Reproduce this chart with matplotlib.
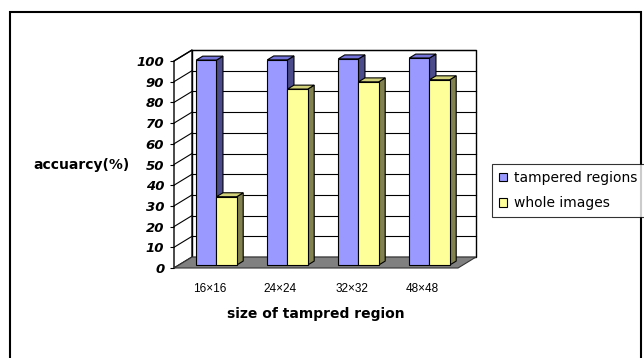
import matplotlib
matplotlib.use("Agg")
import matplotlib.pyplot as plt
from matplotlib.patches import Polygon, Rectangle, Patch

categories = ["16×16", "24×24", "32×32", "48×48"]
tampered_regions = [99.0, 99.1, 99.6, 100.0]
whole_images = [33.0, 85.0, 88.5, 89.5]
series_names = ["tampered regions", "whole images"]
yticks = list(range(0, 101, 10))

# face colours for each series: front, side, top
faces = [("#9999FF", "#4B4B8C", "#7373D9"),
         ("#FFFF99", "#828250", "#D2D27A")]

DX, DY = 0.2535, 5.3     # full depth of the floor in data units
D0, D1 = 0.27, 0.63      # depth slab that the bars occupy
W = 0.285                # bar width
SHIFT = 0.03

fig = plt.figure(figsize=(6.44, 3.58), dpi=100)
fig.patch.set_facecolor("white")
ax = fig.add_axes([174 / 644, 90 / 358, 284 / 644, 207 / 358])
ax.set_xlim(-0.5, 3.5)
ax.set_ylim(0, 100)
ax.patch.set_visible(False)
for s in ax.spines.values():
    s.set_visible(False)

x_lo, x_hi = -0.5, len(categories) - 0.5

# back wall with gridlines
ax.add_patch(Rectangle((x_lo + DX, DY), x_hi - x_lo, 100, facecolor="white",
                       edgecolor="black", lw=1, clip_on=False, zorder=1))
for v in yticks[1:]:
    ax.plot([x_lo + DX, x_hi + DX], [v + DY, v + DY], color="black", lw=0.8,
            clip_on=False, zorder=1.1)

# left side wall with gridlines
ax.add_patch(Polygon([(x_lo, 0), (x_lo + DX, DY), (x_lo + DX, 100 + DY), (x_lo, 100)],
                     closed=True, facecolor="white", edgecolor="black", lw=1,
                     clip_on=False, zorder=1.2))
for v in yticks[1:]:
    ax.plot([x_lo, x_lo + DX], [v, v + DY], color="black", lw=0.8,
            clip_on=False, zorder=1.3)

# floor
ax.add_patch(Polygon([(x_lo, 0), (x_hi, 0), (x_hi + DX, DY), (x_lo + DX, DY)],
                     closed=True, facecolor="#808080", edgecolor="#333333", lw=0.8,
                     clip_on=False, zorder=1.4))

# 3-d bars, drawn left to right so side faces overlap correctly
z = 2
for i in range(len(categories)):
    for s, vals in enumerate([tampered_regions, whole_images]):
        v = vals[i]
        front, side, top = faces[s]
        x0 = i + SHIFT - W + s * W
        x1 = x0 + W
        f0x, f0y = D0 * DX, D0 * DY
        b0x, b0y = D1 * DX, D1 * DY
        ax.add_patch(Polygon([(x1 + f0x, f0y), (x1 + b0x, b0y), (x1 + b0x, v + b0y),
                              (x1 + f0x, v + f0y)], closed=True, facecolor=side,
                             edgecolor="black", lw=0.8, clip_on=False, zorder=z))
        ax.add_patch(Polygon([(x0 + f0x, v + f0y), (x1 + f0x, v + f0y),
                              (x1 + b0x, v + b0y), (x0 + b0x, v + b0y)], closed=True,
                             facecolor=top, edgecolor="black", lw=0.8,
                             clip_on=False, zorder=z))
        ax.add_patch(Rectangle((x0 + f0x, f0y), W, v, facecolor=front,
                               edgecolor="black", lw=0.8, clip_on=False, zorder=z + 0.5))
        z += 1

# axes text
ax.set_yticks(yticks)
ax.set_yticklabels([str(t) for t in yticks], fontfamily="DejaVu Sans",
                   fontweight="bold", fontstyle="italic", fontsize=9.5)
ax.tick_params(axis="y", length=3, width=0.8, pad=4)
ax.set_xticks(range(len(categories)))
ax.set_xticklabels(categories, fontfamily="Liberation Sans", fontsize=8.5)
ax.tick_params(axis="x", length=0, pad=11)

ax.set_xlabel("size of tampred region", fontfamily="DejaVu Sans",
              fontweight="bold", fontsize=10, va="center")
ax.xaxis.set_label_coords(0.5, -0.222)
ax.set_ylabel("accuarcy(%)", fontfamily="DejaVu Sans", fontweight="bold",
              fontsize=10, rotation=0, ha="center", va="center")
ax.yaxis.set_label_coords(-0.327, 0.5)

# legend
handles = [Patch(facecolor=faces[k][0], edgecolor="black", lw=0.8) for k in range(2)]
leg = fig.legend(handles, series_names, loc="upper left",
                 bbox_to_anchor=(492 / 644, 1 - 164 / 358),
                 prop={"family": "DejaVu Sans", "size": 10},
                 frameon=True, fancybox=False, handlelength=0.6, handleheight=0.6,
                 handletextpad=0.5, labelspacing=0.8, borderpad=0.5,
                 borderaxespad=0)
leg.get_frame().set_edgecolor("black")
leg.get_frame().set_linewidth(0.8)

# chart area border
fig.add_artist(Rectangle((9.5 / 644, -0.2), 631.5 / 644, 1.2 - 12 / 358,
                         transform=fig.transFigure, fill=False,
                         edgecolor="black", lw=1.5, clip_on=False))

fig.savefig("out.png", dpi=100)
